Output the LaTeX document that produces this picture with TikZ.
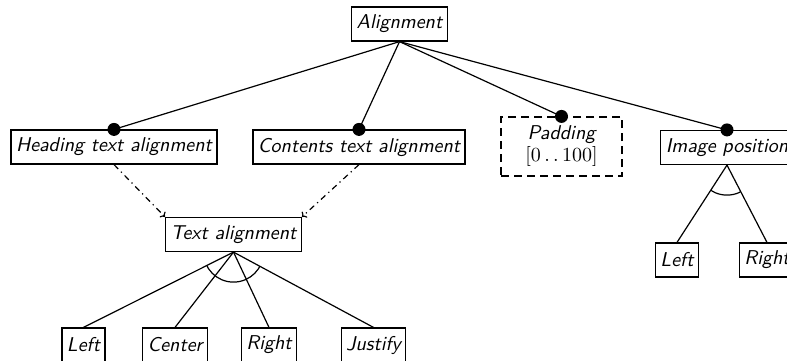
\documentclass[tikz,border=0pt]{standalone}
\usetikzlibrary{arrows.meta}
\begin{document}
\begin{tikzpicture}[x=0.5pt,y=-0.5pt,
  feature/.style={draw, line width=0.6pt, inner xsep=2.5pt, inner ysep=0pt,
    minimum height=17pt, font=\sffamily\itshape},
  optional/.style={draw, dashed, dash pattern=on 4pt off 2.5pt, line width=0.6pt,
    minimum width=60.5pt, minimum height=29.5pt, align=center, inner sep=0pt,
    font=\sffamily\itshape},
  link/.style={line width=0.6pt},
  mandatory/.style={fill=black, circle, inner sep=0pt, minimum size=6.5pt},
  require/.style={line width=0.6pt, dash dot, -{To[length=2pt,width=4pt]}}
]
\useasboundingbox (0,0) rectangle (787,360);
\clip (0,0) rectangle (787,360);

% feature nodes
\node[feature] (align) at (399.5,24) {Alignment};
\node[feature] (head) at (114,147) {Heading text alignment};
\node[feature] (cont) at (359,147) {Contents text alignment};
\node[optional] (pad) at (561.5,146.5) {Padding\\[-1pt]\normalfont$[0\mathinner{\ldotp\ldotp}100]$};
\node[feature] (img) at (727,147.5) {Image position};
\node[feature] (talign) at (233.5,234.5) {Text alignment};
\node[feature] (tleft) at (83.5,345) {Left};
\node[feature] (tcenter) at (175,345) {Center};
\node[feature] (tright) at (269,345) {Right};
\node[feature] (tjust) at (373.5,345) {Justify};
\node[feature] (ileft) at (677,260) {Left};
\node[feature] (iright) at (767,260) {Right};

% mandatory sub-features
\foreach \n in {head,cont,pad,img}{
  \draw[link] (align.south) -- (\n.north);
  \node[mandatory] at (\n.north) {};
}

% requires relations
\draw[require] (head.south) -- (talign.north west);
\draw[require] (cont.south) -- (talign.north east);

% alternative group of the text alignment
\foreach \n in {tleft,tcenter,tright,tjust}
  \draw[link] (talign.south) -- (\n.north);
\begin{scope}
  \clip (talign.south) -- (tleft.north) -- (tjust.north) -- cycle;
  \draw[link] (talign.south) circle (15pt);
\end{scope}

% alternative group of the image position
\foreach \n in {ileft,iright}
  \draw[link] (img.south) -- (\n.north);
\begin{scope}
  \clip (img.south) -- (ileft.north) -- (iright.north) -- cycle;
  \draw[link] (img.south) circle (15pt);
\end{scope}
\end{tikzpicture}
\end{document}
